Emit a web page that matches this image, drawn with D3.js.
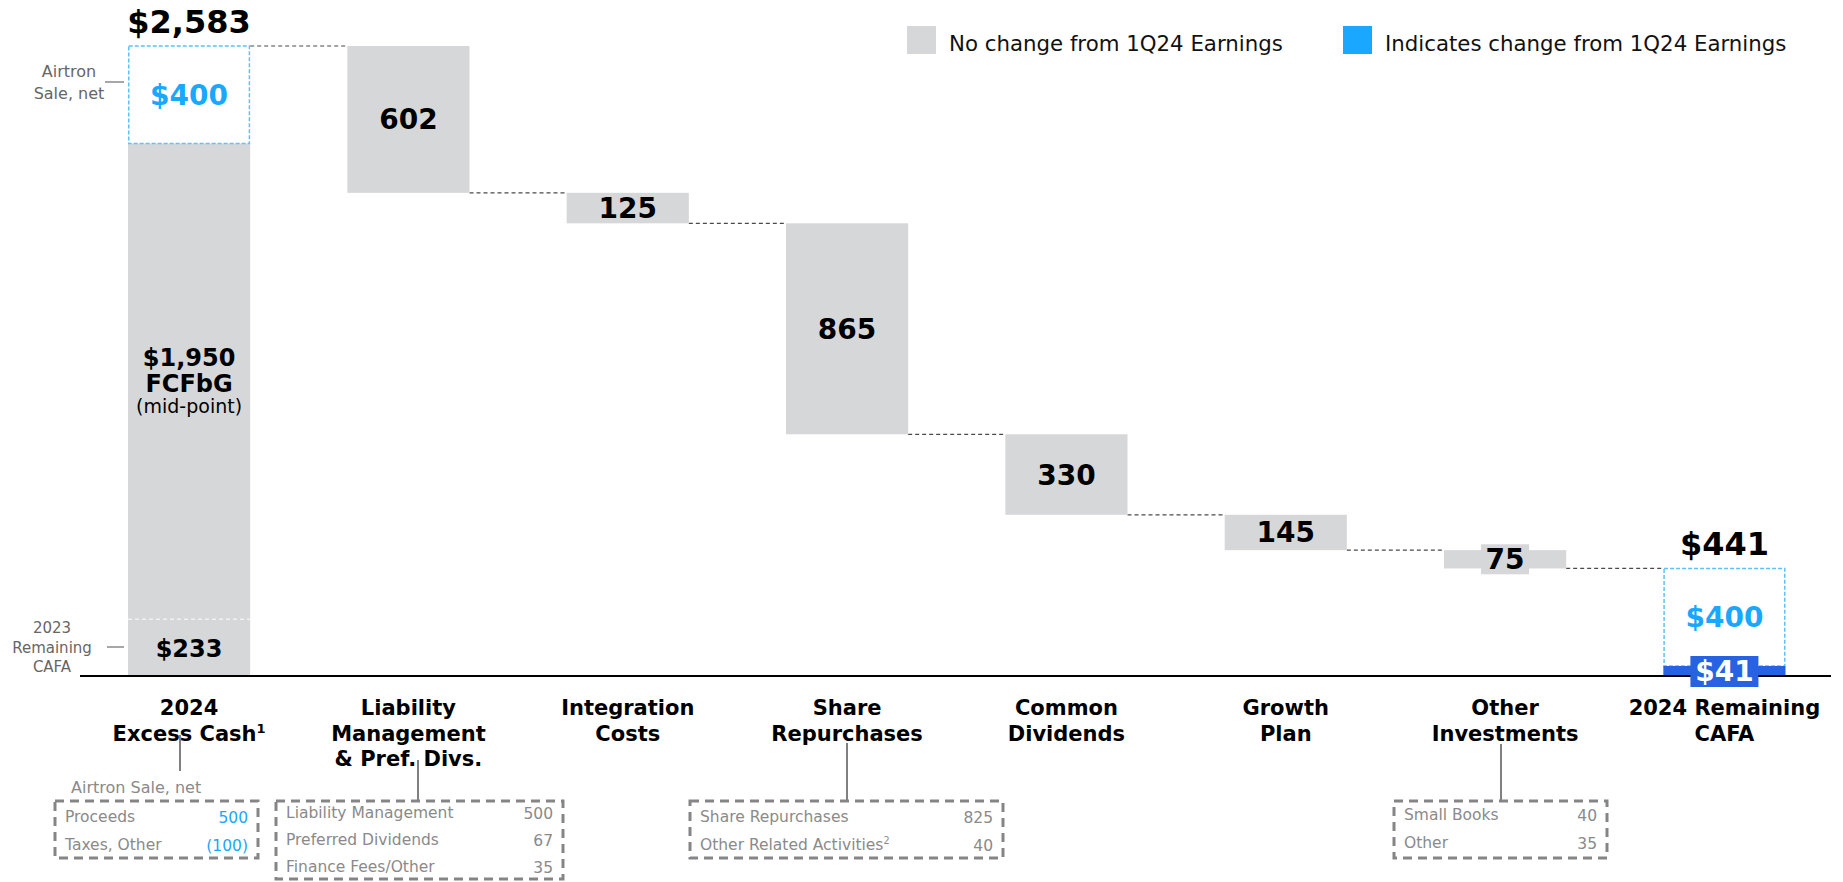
<!DOCTYPE html>
<html><head><meta charset="utf-8">
<script src="https://cdn.jsdelivr.net/npm/d3@7"></script>
<style>
html,body{margin:0;padding:0;background:#fff;}
svg{display:block;font-family:"DejaVu Sans",Verdana,sans-serif;}
</style></head>
<body><svg id="c" width="1843" height="882"></svg>
<script>
// ---------- DATA ----------
const categories = ["2024 Excess Cash", "Liability Management & Pref. Divs.", "Integration Costs", "Share Repurchases", "Common Dividends", "Growth Plan", "Other Investments", "2024 Remaining CAFA"];
const categoryLines = [["2024","Excess Cash^1"],["Liability","Management","& Pref. Divs."],["Integration","Costs"],["Share","Repurchases"],["Common","Dividends"],["Growth","Plan"],["Other","Investments"],["2024 Remaining","CAFA"]];
const startComponents = [233, 1950, 400];      // 2023 remaining CAFA, FCFbG mid-point, Airtron sale net
const startTotal = 2583;
const deductions = [602, 125, 865, 330, 145, 75];
const endComponents = [41, 400];               // changed part, Airtron
const endTotal = 441;
const legendItems = ["No change from 1Q24 Earnings", "Indicates change from 1Q24 Earnings"];
const detailBoxes = [
  {cat:0, title:"Airtron Sale, net", rows:[["Proceeds","500",true],["Taxes, Other","(100)",true]]},
  {cat:1, rows:[["Liability Management","500"],["Preferred Dividends","67"],["Finance Fees/Other","35"]]},
  {cat:3, rows:[["Share Repurchases","825"],["Other Related Activities^2","40"]]},
  {cat:6, rows:[["Small Books","40"],["Other","35"]]}
];

// ---------- STYLE ----------
const GRAY = "#d6d7d9", BLUE = "#1aa7ff", DBLUE = "#2762e3", BOXGRAY = "#858585";

const svg = d3.select("#c");
const x = d3.scaleBand().domain(categories).range([128, 1785.5]).paddingInner(0.443).paddingOuter(0);
const y = d3.scaleLinear().domain([0, startTotal]).range([676, 46]);
const bw = x.bandwidth();
const cx = i => x(categories[i]) + bw/2;

function supText(sel, str, fs) {
  const parts = str.split("^");
  sel.append("tspan").text(parts[0]);
  if (parts.length > 1) {
    sel.append("tspan").attr("font-size", fs * 0.62).attr("dy", -fs * 0.38).text(parts[1]);
  }
}

// ---------- connectors ----------
const levels = [startTotal];
deductions.forEach(d => levels.push(levels[levels.length-1] - d));
const conn = svg.append("g");
levels.forEach((lv, i) => {
  conn.append("line")
    .attr("x1", x(categories[i]) + bw).attr("x2", x(categories[i+1]))
    .attr("y1", y(lv)).attr("y2", y(lv))
    .attr("stroke", "#4a4a4a").attr("stroke-width", 1.2).attr("stroke-dasharray", "4,3");
});

// ---------- start bar ----------
const b0 = x(categories[0]);
const gray0Top = startComponents[0] + startComponents[1];
svg.append("rect").attr("x", b0).attr("width", bw).attr("y", y(gray0Top)).attr("height", y(0) - y(gray0Top)).attr("fill", GRAY);
svg.append("line").attr("x1", b0).attr("x2", b0 + bw).attr("y1", y(startComponents[0])).attr("y2", y(startComponents[0]))
  .attr("stroke", "#fff").attr("stroke-width", 1).attr("stroke-dasharray", "4,3");
svg.append("rect").attr("x", b0 + 0.75).attr("width", bw - 1.5).attr("y", y(startTotal)).attr("height", y(gray0Top) - y(startTotal))
  .attr("fill", "none").attr("stroke", "#5fc2f6").attr("stroke-width", 1.5).attr("stroke-dasharray", "4,2");

svg.append("text").attr("x", cx(0)).attr("y", y(startTotal) - 13).attr("text-anchor", "middle")
  .attr("font-size", 32).attr("font-weight", "bold").text("$" + d3.format(",")(startTotal));
svg.append("text").attr("x", cx(0)).attr("y", (y(startTotal) + y(gray0Top))/2 + 10).attr("text-anchor", "middle")
  .attr("font-size", 28).attr("font-weight", "bold").attr("fill", BLUE).text("$" + startComponents[2]);
svg.append("text").attr("x", cx(0)).attr("y", 366).attr("text-anchor", "middle")
  .attr("font-size", 24).attr("font-weight", "bold").text("$" + d3.format(",")(startComponents[1]));
svg.append("text").attr("x", cx(0)).attr("y", 392).attr("text-anchor", "middle")
  .attr("font-size", 24).attr("font-weight", "bold").text("FCFbG");
svg.append("text").attr("x", cx(0)).attr("y", 413).attr("text-anchor", "middle")
  .attr("font-size", 19).text("(mid-point)");
svg.append("text").attr("x", cx(0)).attr("y", (y(0) + y(startComponents[0]))/2 + 9).attr("text-anchor", "middle")
  .attr("font-size", 24).attr("font-weight", "bold").text("$" + startComponents[0]);

// left annotations
const ann = svg.append("g").attr("fill", "#666");
ann.append("text").attr("x", 69).attr("y", 77).attr("text-anchor", "middle").attr("font-size", 16).text("Airtron");
ann.append("text").attr("x", 69).attr("y", 99).attr("text-anchor", "middle").attr("font-size", 16).text("Sale, net");
svg.append("line").attr("x1", 105).attr("x2", 124).attr("y1", 82).attr("y2", 82).attr("stroke", "#777").attr("stroke-width", 1.3);
["2023","Remaining","CAFA"].forEach((t, i) => ann.append("text").attr("x", 52).attr("y", 633 + i*19.5).attr("text-anchor", "middle").attr("font-size", 15).text(t));
svg.append("line").attr("x1", 107).attr("x2", 124).attr("y1", 647).attr("y2", 647).attr("stroke", "#777").attr("stroke-width", 1.3);

// ---------- deduction bars ----------
deductions.forEach((d, k) => {
  const i = k + 1;
  const top = levels[k], bot = levels[k] - d;
  svg.append("rect").attr("x", x(categories[i])).attr("width", bw)
    .attr("y", y(top)).attr("height", y(bot) - y(top)).attr("fill", GRAY);
  const ym = (y(top) + y(bot)) / 2;
  if (y(bot) - y(top) < 26) {
    svg.append("rect").attr("x", cx(i) - 24).attr("y", ym - 15).attr("width", 48).attr("height", 30).attr("fill", GRAY);
  }
  svg.append("text").attr("x", cx(i)).attr("y", ym + 10).attr("text-anchor", "middle")
    .attr("font-size", 28).attr("font-weight", "bold").text(d);
});

// ---------- end bar ----------
const b7 = x(categories[7]);
svg.append("rect").attr("x", b7 + 0.75).attr("width", bw - 1.5).attr("y", y(endTotal)).attr("height", y(endComponents[0]) - y(endTotal))
  .attr("fill", "none").attr("stroke", "#5fc2f6").attr("stroke-width", 1.5).attr("stroke-dasharray", "4,2");
svg.append("rect").attr("x", b7).attr("width", bw).attr("y", y(endComponents[0])).attr("height", y(0) - y(endComponents[0])).attr("fill", DBLUE);
svg.append("text").attr("x", cx(7)).attr("y", y(endTotal) - 13).attr("text-anchor", "middle")
  .attr("font-size", 32).attr("font-weight", "bold").text("$" + endTotal);
svg.append("text").attr("x", cx(7)).attr("y", (y(endTotal) + y(endComponents[0]))/2 + 10).attr("text-anchor", "middle")
  .attr("font-size", 28).attr("font-weight", "bold").attr("fill", BLUE).text("$" + endComponents[1]);

// baseline
svg.append("line").attr("x1", 80).attr("x2", 1831).attr("y1", 676).attr("y2", 676).attr("stroke", "#000").attr("stroke-width", 2);

svg.append("rect").attr("x", cx(7) - 34).attr("y", 656).attr("width", 68).attr("height", 31).attr("fill", DBLUE);
svg.append("text").attr("x", cx(7)).attr("y", 681).attr("text-anchor", "middle")
  .attr("font-size", 28).attr("font-weight", "bold").attr("fill", "#fff").text("$" + endComponents[0]);

// ---------- category labels ----------
categoryLines.forEach((lines, i) => {
  lines.forEach((l, j) => {
    const t = svg.append("text").attr("text-anchor", "middle").attr("font-size", 21).attr("font-weight", "bold").attr("fill", "#000")
      .attr("x", cx(i)).attr("y", 715 + j*25.5);
    supText(t, l, 21);
  });
});

// ---------- detail boxes ----------
const boxGeom = {0:{x0:55,x1:258,y0:801,y1:858,lx:180,ly:735,le:771,ty:822,dy:28},
                 1:{x0:276,x1:563,y0:801,y1:879,lx:418,ly:760,le:801,ty:818,dy:27},
                 3:{x0:690,x1:1003,y0:801,y1:858,lx:847,ly:743,le:801,ty:822,dy:28},
                 6:{x0:1394,x1:1607,y0:801,y1:858,lx:1501,ly:744,le:801,ty:820,dy:28}};
detailBoxes.forEach(b => {
  const g = boxGeom[b.cat];
  svg.append("line").attr("x1", g.lx).attr("x2", g.lx).attr("y1", g.ly).attr("y2", g.le).attr("stroke", "#808080").attr("stroke-width", 2);
  svg.append("rect").attr("x", g.x0).attr("y", g.y0).attr("width", g.x1 - g.x0).attr("height", g.y1 - g.y0)
    .attr("fill", "none").attr("stroke", BOXGRAY).attr("stroke-width", 3).attr("stroke-dasharray", "9,6");
  if (b.title) svg.append("text").attr("x", 71).attr("y", 793).attr("font-size", 16).attr("fill", "#8a8a8a").text(b.title);
  b.rows.forEach((r, j) => {
    const t = svg.append("text").attr("x", g.x0 + 10).attr("y", g.ty + j*g.dy).attr("font-size", 15.5).attr("fill", "#8a8a8a");
    supText(t, r[0], 15.5);
    svg.append("text").attr("x", g.x1 - 10).attr("y", g.ty + 1 + j*g.dy).attr("font-size", 15.5).attr("text-anchor", "end")
      .attr("fill", r[2] ? BLUE : "#8a8a8a").text(r[1]);
  });
});

// ---------- legend ----------
const legColors = [GRAY, BLUE];
const legX = [907, 1343];
legendItems.forEach((t, i) => {
  svg.append("rect").attr("x", legX[i]).attr("y", 26).attr("width", 29).attr("height", 28).attr("fill", legColors[i]);
  svg.append("text").attr("x", legX[i] + 42).attr("y", 51).attr("font-size", 21.3).attr("fill", "#111").text(t);
});
</script></body></html>
